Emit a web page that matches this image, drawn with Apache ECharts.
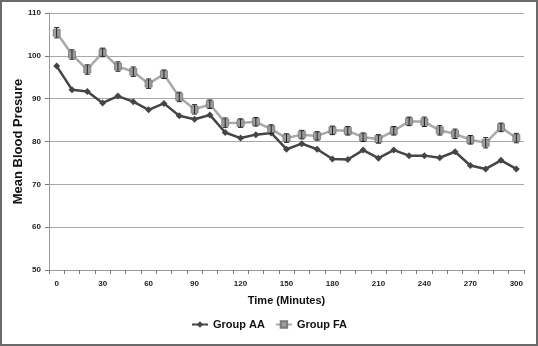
<!DOCTYPE html>
<html>
<head>
<meta charset="utf-8">
<script src="https://cdn.jsdelivr.net/npm/echarts@6/dist/echarts.min.js"></script>
<style>
html,body{margin:0;padding:0;background:#fff;}
#c{width:538px;height:346px;box-sizing:border-box;border:2px solid #6a6a6a;}
</style>
</head>
<body>
<div id="c"></div>
<script>
const times = [0,10,20,30,40,50,60,70,80,90,100,110,120,130,140,150,160,170,180,190,200,210,220,230,240,250,260,270,280,290,300];
const groupAA = [97.6,92.1,91.7,89.0,90.6,89.3,87.4,88.9,86.0,85.2,86.2,82.1,80.8,81.6,82.0,78.2,79.5,78.2,75.9,75.8,78.0,76.1,78.0,76.7,76.7,76.2,77.6,74.4,73.6,75.6,73.6];
const groupFA = [105.4,100.3,96.8,100.8,97.5,96.3,93.5,95.7,90.4,87.5,88.7,84.4,84.3,84.6,82.9,80.8,81.6,81.3,82.6,82.5,81.0,80.6,82.5,84.7,84.6,82.6,81.8,80.4,79.7,83.3,80.8];
const errFA = [1.2,1.1,1.1,1.0,1.1,1.1,1.1,1.0,1.1,1.1,1.0,1.1,1.0,1.0,1.0,1.0,1.0,1.0,1.0,1.0,1.0,1.0,1.0,1.0,1.1,1.1,1.1,1.0,1.2,1.0,1.1];

const cats = times.map(String);
const errData = groupFA.map((v,i)=>[i, v-errFA[i], v+errFA[i]]);

const chart = echarts.init(document.getElementById('c'));
const lblFont = {fontFamily:'Liberation Sans', fontWeight:'bold', color:'#222'};
chart.setOption({
  animation:false,
  grid:{left:47, right:12, top:11, bottom:74, containLabel:false, outerBoundsMode:'none'},
  legend:{
    bottom:9, left:'center',
    itemWidth:16, itemHeight:8, itemGap:10,
    textStyle:{fontFamily:'Liberation Sans', fontWeight:'bold', fontSize:11, color:'#111'},
    data:['Group AA','Group FA']
  },
  xAxis:{
    type:'category', data:cats, boundaryGap:true,
    name:'Time (Minutes)', nameLocation:'middle', nameGap:25, nameMoveOverlap:false,
    nameTextStyle:{fontFamily:'Liberation Sans', fontWeight:'bold', fontSize:11, color:'#111'},
    axisLine:{lineStyle:{color:'#999', width:1}},
    axisTick:{show:true, interval:0, length:4, lineStyle:{color:'#777'}},
    axisLabel:Object.assign({interval:2, fontSize:8, margin:10}, lblFont),
    splitLine:{show:false}
  },
  yAxis:{
    type:'value', min:50, max:110, interval:10,
    name:'Mean Blood Presure', nameLocation:'middle', nameGap:24, nameMoveOverlap:false,
    nameTextStyle:{fontFamily:'Liberation Sans', fontWeight:'bold', fontSize:13, color:'#111'},
    axisLine:{show:true, lineStyle:{color:'#999'}},
    axisTick:{show:true, length:4, lineStyle:{color:'#777'}},
    axisLabel:Object.assign({fontSize:8, margin:8}, lblFont),
    splitLine:{lineStyle:{color:'#a8a8a8', width:1.2}}
  },
  series:[
    {
      name:'Group AA', type:'line', data:groupAA,
      symbol:'diamond', symbolSize:7,
      lineStyle:{color:'#454545', width:2.5},
      itemStyle:{color:'#454545'},
      z:3
    },
    {
      name:'Group FA', type:'line', data:groupFA,
      symbol:'rect', symbolSize:7,
      lineStyle:{color:'#a9a9a9', width:2.5},
      itemStyle:{color:'#9c9c9c', borderColor:'#7a7a7a', borderWidth:0.8},
      z:4
    },
    {
      name:'errFA', type:'custom', data:errData, z:5,
      renderItem:function(params, api){
        const x = api.value(0);
        const lo = api.coord([x, api.value(1)]);
        const hi = api.coord([x, api.value(2)]);
        const w = 2.5;
        const st = {stroke:'#222', lineWidth:1};
        return {type:'group', children:[
          {type:'line', shape:{x1:lo[0], y1:lo[1], x2:hi[0], y2:hi[1]}, style:st},
          {type:'line', shape:{x1:lo[0]-w, y1:lo[1], x2:lo[0]+w, y2:lo[1]}, style:st},
          {type:'line', shape:{x1:hi[0]-w, y1:hi[1], x2:hi[0]+w, y2:hi[1]}, style:st}
        ]};
      }
    }
  ]
});
</script>
</body>
</html>
